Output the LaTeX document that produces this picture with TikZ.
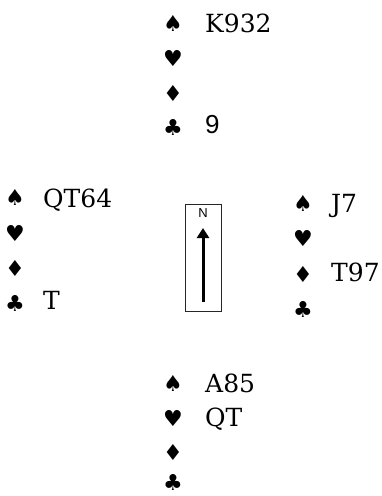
\documentclass[tikz,border=0pt]{standalone}
\usepackage{fontspec}
\setmainfont{DejaVu Serif}
\newfontfamily\suitfont{DejaVu Sans}
\newfontfamily\sansfont{Liberation Sans}
\usetikzlibrary{arrows.meta}
\tikzset{
  suit/.style={font=\suitfont\fontsize{22}{22}\selectfont, anchor=center, inner sep=0pt},
  holding/.style={font=\fontsize{25}{25}\selectfont, anchor=base west, inner sep=0pt},
  sansholding/.style={font=\sansfont\fontsize{26}{26}\selectfont, anchor=base west, inner sep=0pt},
  compass/.style={draw=black!85, line width=0.9pt, minimum width=36pt, minimum height=107pt, inner sep=0pt},
  northlabel/.style={font=\sansfont\fontsize{13}{13}\selectfont, inner sep=0pt},
  northarrow/.style={line width=3pt, -{Triangle[width=12pt,length=10pt]}}
}
\begin{document}
\begin{tikzpicture}[x=1pt,y=-1pt]
\useasboundingbox (0,0) rectangle (381,496);
% North
\node[suit] (ns) at (173,23) {♠};
\node[holding] (nst) at (205,32) {K932};
\node[suit] (nh) at (173,58) {♥};
\node[suit] (nd) at (173,93) {♦};
\node[suit] (nc) at (173,127) {♣};
\node[sansholding] (nct) at (205,133) {9};
% West
\node[suit] (ws) at (15,197) {♠};
\node[holding] (wst) at (43,207) {QT64};
\node[suit] (wh) at (15,233) {♥};
\node[suit] (wd) at (15,268) {♦};
\node[suit] (wc) at (15,303) {♣};
\node[holding] (wct) at (43,309) {T};
% East
\node[suit] (es) at (303,203) {♠};
\node[holding] (est) at (331,212) {J7};
\node[suit] (eh) at (303,238) {♥};
\node[suit] (ed) at (303,274) {♦};
\node[holding] (edt) at (331,281) {T97};
\node[suit] (ec) at (303,309) {♣};
% South
\node[suit] (ss) at (173,383) {♠};
\node[holding] (sst) at (205,392) {A85};
\node[suit] (sh) at (173,418) {♥};
\node[holding] (sht) at (205,426) {QT};
\node[suit] (sd) at (173,452) {♦};
\node[suit] (sc) at (173,482) {♣};
% Compass
\node[compass] (box) at (203,257.5) {};
\node[northlabel] (nlab) at (203,213) {N};
\coordinate (arrowfoot) at (203,302);
\coordinate (arrowtip) at (203,228);
\draw[northarrow] (arrowfoot) -- (arrowtip);
\end{tikzpicture}
\end{document}
